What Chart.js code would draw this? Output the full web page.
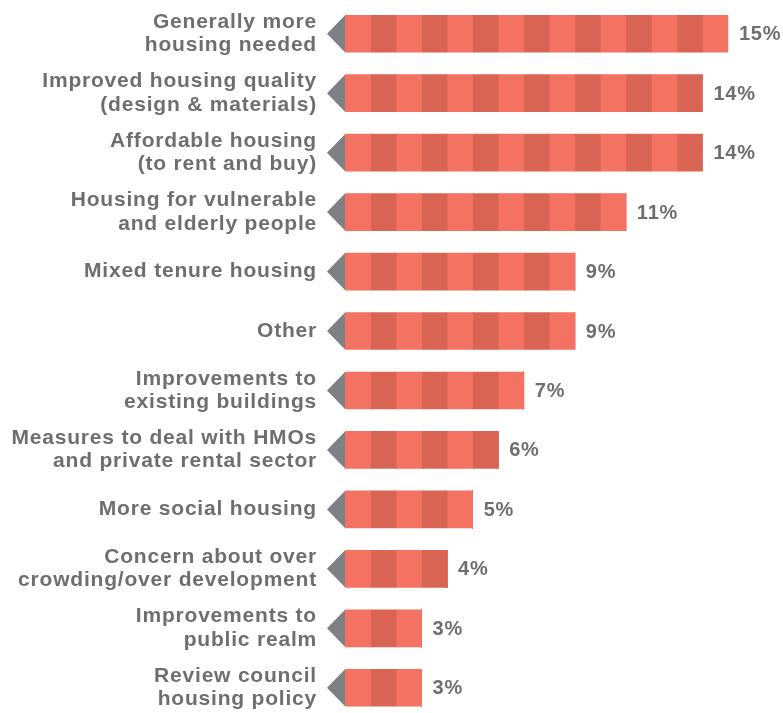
<!DOCTYPE html>
<html>
<head>
<meta charset="utf-8">
<script src="https://cdn.jsdelivr.net/npm/chart.js@4"></script>
<style>
  html, body { margin: 0; padding: 0; background: #fff; overflow: hidden; }
  #wrap { width: 783px; height: 718px; }
</style>
</head>
<body>
<div id="wrap"><canvas id="chart"></canvas></div>
<script>
// categories (multi-line labels) and values in %
const categories = [
    ['Generally more', 'housing needed'],
    ['Improved housing quality', '(design & materials)'],
    ['Affordable housing', '(to rent and buy)'],
    ['Housing for vulnerable', 'and elderly people'],
    'Mixed tenure housing',
    'Other',
    ['Improvements to', 'existing buildings'],
    ['Measures to deal with HMOs', 'and private rental sector'],
    'More social housing',
    ['Concern about over', 'crowding/over development'],
    ['Improvements to', 'public realm'],
    ['Review council', 'housing policy']
]
const values = [15, 14, 14, 11, 9, 9, 7, 6, 5, 4, 3, 3]

const lightRed = '#f47262'
const darkRed = '#d96454'
const grey = '#6d6e71'
const arrowGrey = '#7e8085'
const fontFamily = '"Liberation Sans", Arial, sans-serif'

// each bar is built of 1% stripes, stacked
const maxVal = Math.max(...values)
const stripes = []
for (let k = 0; k < maxVal; k++) {
    stripes.push({
        data: values.map(v => v > k ? 1 : 0),
        backgroundColor: k % 2 === 0 ? lightRed : darkRed,
        borderWidth: 0,
        barThickness: 37
    })
}

// the original font (helvetica bold) is wider than liberation, so space it a bit
const spacing = {
    id: 'spacing',
    beforeDraw(chart) { chart.ctx.letterSpacing = '0.8px' }
}

const arrowsAndValues = {
    id: 'arrowsAndValues',
    afterDatasetsDraw(chart) {
        const ctx = chart.ctx
        const x = chart.scales.x
        const y = chart.scales.y
        const x0 = x.getPixelForValue(0)
        ctx.save()
        values.forEach((v, i) => {
            const cy = y.getPixelForValue(i)
            ctx.fillStyle = arrowGrey
            ctx.beginPath()
            ctx.moveTo(x0, cy - 18.5)
            ctx.lineTo(x0 - 18, cy)
            ctx.lineTo(x0, cy + 18.5)
            ctx.closePath()
            ctx.fill()

            ctx.fillStyle = grey
            ctx.font = 'bold 20px ' + fontFamily
            ctx.textAlign = 'left'
            ctx.textBaseline = 'middle'
            ctx.fillText(v + '%', x.getPixelForValue(v) + 11, cy + 1)
        })
        ctx.restore()
    }
}

new Chart(document.getElementById('chart'), {
    type: 'bar',
    data: {
        labels: categories,
        datasets: stripes
    },
    options: {
        indexAxis: 'y',
        responsive: true,
        maintainAspectRatio: false,
        animation: false,
        layout: { padding: { top: 4, right: 4, bottom: 0.5, left: 0 } },
        scales: {
            x: {
                stacked: true,
                display: false,
                min: 0,
                max: 17
            },
            y: {
                stacked: true,
                grid: { display: false, drawTicks: false },
                border: { display: false },
                ticks: {
                    color: grey,
                    padding: 28,
                    font: { family: fontFamily, size: 21, weight: 'bold', lineHeight: 1.12 }
                },
                afterFit(scale) {
                    scale.width = 345
                    scale.paddingTop = 0
                    scale.paddingBottom = 0
                }
            }
        },
        plugins: {
            legend: { display: false },
            tooltip: { enabled: false }
        }
    },
    plugins: [spacing, arrowsAndValues]
})
</script>
</body>
</html>
